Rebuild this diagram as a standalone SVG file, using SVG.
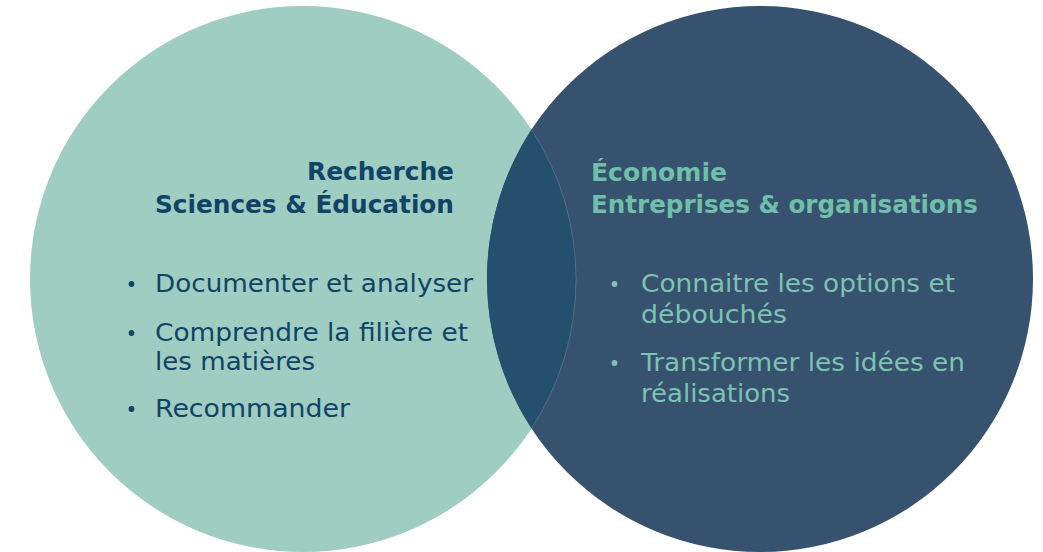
<svg xmlns="http://www.w3.org/2000/svg" width="1043" height="552" viewBox="0 0 1043 552">
  <style>
    .head { font-family: "DejaVu Sans", "Open Sans", sans-serif; font-weight: bold; font-size: 24px; }
    .item { font-family: "DejaVu Sans", "Open Sans", sans-serif; font-size: 25px; }
    .leftTxt { fill: #0f4466; }
    .rightHead { fill: #6fbfaa; }
    .rightTxt { fill: #7cc3b1; }
  </style>
  <rect width="1043" height="552" fill="#ffffff"/>
  <g id="circle-left">
    <circle cx="303" cy="279" r="273" fill="#9fcdc2"/>
  </g>
  <g id="circle-right">
    <circle cx="760" cy="279" r="273" fill="#36526f"/>
  </g>
  <g id="overlap">
    <path d="M531.5,129.6 A273,273 0 0 1 531.5,428.4 A273,273 0 0 1 531.5,129.6 Z" fill="#244f6d"/>
    <path d="M531.5,129.6 A273,273 0 0 1 531.5,428.4" fill="none" stroke="#9fcdc2" stroke-opacity="0.35" stroke-width="0.8"/>
  </g>
  <g id="left-text">
    <text class="head leftTxt" x="454" y="180" text-anchor="end" textLength="147" lengthAdjust="spacingAndGlyphs">Recherche</text>
    <text class="head leftTxt" x="454" y="213" text-anchor="end" textLength="299" lengthAdjust="spacingAndGlyphs">Sciences &amp; Éducation</text>
    <circle cx="131.5" cy="284" r="2.9" fill="#0f4466"/>
    <text class="item leftTxt" x="155" y="292" textLength="318" lengthAdjust="spacingAndGlyphs">Documenter et analyser</text>
    <circle cx="131.5" cy="333" r="2.9" fill="#0f4466"/>
    <text class="item leftTxt" x="155" y="341" textLength="313" lengthAdjust="spacingAndGlyphs">Comprendre la filière et</text>
    <text class="item leftTxt" x="155" y="370" textLength="160" lengthAdjust="spacingAndGlyphs">les matières</text>
    <circle cx="131.5" cy="409" r="2.9" fill="#0f4466"/>
    <text class="item leftTxt" x="155" y="417" textLength="195" lengthAdjust="spacingAndGlyphs">Recommander</text>
  </g>
  <g id="right-text">
    <text class="head rightHead" x="591" y="181" textLength="136" lengthAdjust="spacingAndGlyphs">Économie</text>
    <text class="head rightHead" x="591" y="213" textLength="387" lengthAdjust="spacingAndGlyphs">Entreprises &amp; organisations</text>
    <circle cx="614.5" cy="284" r="2.9" fill="#7cc3b1"/>
    <text class="item rightTxt" x="641" y="292" textLength="314" lengthAdjust="spacingAndGlyphs">Connaitre les options et</text>
    <text class="item rightTxt" x="641" y="323" textLength="146" lengthAdjust="spacingAndGlyphs">débouchés</text>
    <circle cx="614.5" cy="363" r="2.9" fill="#7cc3b1"/>
    <text class="item rightTxt" x="641" y="371" textLength="324" lengthAdjust="spacingAndGlyphs">Transformer les idées en</text>
    <text class="item rightTxt" x="641" y="402" textLength="149" lengthAdjust="spacingAndGlyphs">réalisations</text>
  </g>
</svg>
